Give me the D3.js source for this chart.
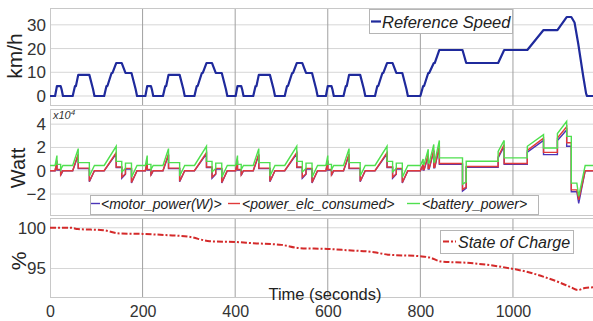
<!DOCTYPE html>
<html><head><meta charset="utf-8">
<script src="https://cdn.jsdelivr.net/npm/d3@7"></script>
<style>
html,body{margin:0;padding:0;background:#fff;overflow:hidden}
svg{display:block;font-family:"Liberation Sans",Arial,sans-serif}
</style></head>
<body>
<svg id="c" width="593" height="321"></svg>
<script>
// ---- DATA ----
const xTicks = [0, 200, 400, 600, 800, 1000];
const speedTicks = [0, 10, 20, 30];
const powerTicks = [-2, 0, 2, 4];
const socTicks = [95, 100];

// Reference speed (time s, value)
const speedT = [0,11,15,23,25,28,49,54,56,61,85,93,96,117,122,124,133,135,143,155,163,176,185,188,
  195,206,210,218,220,223,244,249,251,256,280,288,291,312,317,319,328,330,338,350,358,371,380,383,
  390,401,405,413,415,418,439,444,446,451,475,483,486,507,512,514,523,525,533,545,553,566,575,578,
  585,596,600,608,610,613,634,639,641,646,670,678,681,702,707,709,718,720,728,740,748,761,770,773,
  780,800,806,808,817,819,829,831,841,891,899,968,981,1031,1066,1096,1116,1126,1133,1141,1152,1158,1160,1180];
const speedV = [0,0,4.2,4.2,2.8,0,0,4.2,4.2,8.9,8.9,2.8,0,0,4.2,4.2,9.7,9.7,13.9,13.9,9.7,9.7,2.8,0,
  0,0,4.2,4.2,2.8,0,0,4.2,4.2,8.9,8.9,2.8,0,0,4.2,4.2,9.7,9.7,13.9,13.9,9.7,9.7,2.8,0,
  0,0,4.2,4.2,2.8,0,0,4.2,4.2,8.9,8.9,2.8,0,0,4.2,4.2,9.7,9.7,13.9,13.9,9.7,9.7,2.8,0,
  0,0,4.2,4.2,2.8,0,0,4.2,4.2,8.9,8.9,2.8,0,0,4.2,4.2,9.7,9.7,13.9,13.9,9.7,9.7,2.8,0,
  0,0,4.2,4.2,9.7,9.7,13.9,13.9,19.4,19.4,13.9,13.9,19.4,19.4,27.8,27.8,33.3,33.3,31,22,8,1,0,0];

// Power (x10^4 W)
const powerT = [0,11,15,15,23,23,28,49,61,61,85,85,96,117,143,143,155,155,163,163,176,176,188,
  195,206,210,210,218,218,223,244,256,256,280,280,291,312,338,338,350,350,358,358,371,371,383,
  390,401,405,405,413,413,418,439,451,451,475,475,486,507,533,533,545,545,553,553,566,566,578,
  585,596,600,600,608,608,613,634,646,646,670,670,681,702,728,728,740,740,748,748,761,761,773,
  780,800,806,806,808,817,817,819,829,829,831,841,841,891,891,899,899,968,968,981,981,1031,1031,1066,1066,1096,1096,1116,1116,1126,1126,1138,1142,1156,1180];
const motorPower = [0,0,0.8,0.05,0.05,-0.4,0,0,1.35,0.18,0.18,-0.95,0,0,1.45,0.28,0.28,-0.65,-0.3,0.15,0.15,-1.05,0,
  0,0,0.8,0.05,0.05,-0.4,0,0,1.35,0.18,0.18,-0.95,0,0,1.45,0.28,0.28,-0.65,-0.3,0.15,0.15,-1.05,0,
  0,0,0.8,0.05,0.05,-0.4,0,0,1.35,0.18,0.18,-0.95,0,0,1.45,0.28,0.28,-0.65,-0.3,0.15,0.15,-1.05,0,
  0,0,0.8,0.05,0.05,-0.4,0,0,1.35,0.18,0.18,-0.95,0,0,1.45,0.28,0.28,-0.65,-0.3,0.15,0.15,-1.05,0,
  0,0,0.5,0.05,0.05,1.3,0.15,0.15,1.7,0.25,0.25,2.0,0.55,0.55,-1.75,-1.5,0.3,0.3,1.1,2.1,0.55,0.55,1.6,2.6,1.38,1.38,2.6,3.5,2.1,2.1,-1.8,-1.8,-2.8,0,0];
const elcPower = [0,0,0.9,0.1,0.1,-0.35,0,0,1.45,0.22,0.22,-0.9,0,0,1.55,0.32,0.32,-0.55,-0.25,0.2,0.2,-1.0,0,
  0,0,0.9,0.1,0.1,-0.35,0,0,1.45,0.22,0.22,-0.9,0,0,1.55,0.32,0.32,-0.55,-0.25,0.2,0.2,-1.0,0,
  0,0,0.9,0.1,0.1,-0.35,0,0,1.45,0.22,0.22,-0.9,0,0,1.55,0.32,0.32,-0.55,-0.25,0.2,0.2,-1.0,0,
  0,0,0.9,0.1,0.1,-0.35,0,0,1.45,0.22,0.22,-0.9,0,0,1.55,0.32,0.32,-0.55,-0.25,0.2,0.2,-1.0,0,
  0,0,0.55,0.1,0.1,1.4,0.2,0.2,1.8,0.3,0.3,2.15,0.62,0.62,-1.6,-1.4,0.37,0.37,1.2,2.25,0.62,0.62,1.75,2.8,1.58,1.58,2.8,3.77,2.4,2.4,-1.64,-1.64,-2.5,0,0];
const batteryPower = [0.45,0.45,1.3,0.55,0.55,0.1,0.45,0.45,1.9,0.7,0.7,-0.45,0.45,0.45,2.1,0.8,0.8,-0.1,0.2,0.65,0.65,-0.55,0.45,
  0.45,0.45,1.3,0.55,0.55,0.1,0.45,0.45,1.9,0.7,0.7,-0.45,0.45,0.45,2.1,0.8,0.8,-0.1,0.2,0.65,0.65,-0.55,0.45,
  0.45,0.45,1.3,0.55,0.55,0.1,0.45,0.45,1.9,0.7,0.7,-0.45,0.45,0.45,2.1,0.8,0.8,-0.1,0.2,0.65,0.65,-0.55,0.45,
  0.45,0.45,1.3,0.55,0.55,0.1,0.45,0.45,1.9,0.7,0.7,-0.45,0.45,0.45,2.1,0.8,0.8,-0.1,0.2,0.65,0.65,-0.55,0.45,
  0.45,0.45,1.0,0.55,0.55,1.85,0.65,0.65,2.25,0.75,0.75,2.6,1.1,1.1,-1.15,-0.95,0.82,0.82,1.65,2.6,1.1,1.1,2.1,3.1,1.95,1.95,3.2,4.25,2.95,2.95,-1.06,-1.06,-2.2,0.45,0.45];

// State of charge (%)
const socT = [0,45,60,115,150,200,250,300,345,400,440,500,540,600,640,700,730,800,820,845,900,970,1000,1030,1060,1100,1125,1140,1155,1180];
const socV = [100,100,99.85,99.7,99.3,99.25,99.1,98.9,98.35,98.25,98.1,97.9,97.5,97.4,97.25,97.0,96.7,96.5,96.35,95.85,95.7,95.25,94.95,94.6,94.1,93.3,92.7,92.35,92.6,92.7];

const speedLabel = "Reference Speed";
const powerLabels = ["<motor_power(W)>", "<power_elc_consumed>", "<battery_power>"];
const socLabel = "State of Charge";

// ---- DRAW ----
const svg = d3.select("#c");
const X0 = 50, X1 = 596.3;
const x = d3.scaleLinear().domain([0, 1180]).range([X0, X1]);

const panels = [
  {id:"p1", top:8, bottom:105, dom:[-3.8, 37.1], ticks:speedTicks},
  {id:"p2", top:109, bottom:215, dom:[-3.8, 5.3], ticks:powerTicks},
  {id:"p3", top:218, bottom:297, dom:[91.5, 101.2], ticks:socTicks}
];
const defs = svg.append("defs");
panels.forEach(p => {
  p.y = d3.scaleLinear().domain(p.dom).range([p.bottom, p.top]);
  defs.append("clipPath").attr("id", "clip-" + p.id).append("rect")
    .attr("x", X0).attr("y", p.top).attr("width", X1 - X0).attr("height", p.bottom - p.top);
  const g = svg.append("g");
  g.append("rect").attr("x", X0).attr("y", p.top).attr("width", 600 - X0).attr("height", p.bottom - p.top)
    .attr("fill", "#fff");
  g.selectAll(".hg").data(p.ticks).join("line")
    .attr("x1", X0).attr("x2", 600).attr("y1", d => p.y(d)).attr("y2", d => p.y(d))
    .attr("stroke", "#d6d6d6").attr("stroke-width", 1);
  g.selectAll(".vg").data(xTicks.filter(d => d > 0)).join("line")
    .attr("x1", d => x(d)).attr("x2", d => x(d)).attr("y1", p.top).attr("y2", p.bottom)
    .attr("stroke", "#a0a0a0").attr("stroke-width", 1);
  g.append("rect").attr("x", X0 + 0.5).attr("y", p.top + 0.5).attr("width", 600 - X0).attr("height", p.bottom - p.top)
    .attr("fill", "none").attr("stroke", "#c8c8c8").attr("stroke-width", 1);
  const ax = d3.axisLeft(p.y).tickValues(p.ticks).tickSize(0).tickPadding(0).tickFormat(d3.format("d"));
  const ag = svg.append("g").attr("transform", `translate(${X0 - 4},0)`).call(ax);
  ag.select(".domain").remove();
  ag.selectAll("text").attr("font-size", 17).attr("fill", "#333")
    .attr("font-family", "Liberation Sans, Arial, sans-serif");
  p.g = svg.append("g").attr("clip-path", `url(#clip-${p.id})`);
});

// x axis (bottom)
const xa = d3.axisBottom(x).tickValues(xTicks).tickSize(0).tickPadding(0).tickFormat(d3.format("d"));
const xg = svg.append("g").attr("transform", "translate(0,306)").call(xa);
xg.select(".domain").remove();
xg.selectAll("text").attr("font-size", 16).attr("fill", "#333").attr("dy", "0.68em")
  .attr("font-family", "Liberation Sans, Arial, sans-serif");

const p1 = panels[0], p2 = panels[1], p3 = panels[2];
const speedData = speedT.map((t, i) => [t, speedV[i]]);
p1.g.append("path").datum(speedData)
  .attr("d", d3.line().x(d => x(d[0])).y(d => p1.y(d[1])))
  .attr("fill", "none").attr("stroke", "#1f2a9c").attr("stroke-width", 2.2).attr("stroke-linejoin", "round");

const powColors = ["#4b35b8", "#e03a3a", "#4fe04f"];
[motorPower, elcPower, batteryPower].forEach((arr, k) => {
  const data = powerT.map((t, i) => [t, arr[i]]);
  p2.g.append("path").datum(data)
    .attr("d", d3.line().x(d => x(d[0])).y(d => p2.y(d[1])))
    .attr("fill", "none").attr("stroke", powColors[k]).attr("stroke-width", 1.4);
});

const socData = socT.map((t, i) => [t, socV[i]]);
p3.g.append("path").datum(socData)
  .attr("d", d3.line().curve(d3.curveMonotoneX).x(d => x(d[0])).y(d => p3.y(d[1])))
  .attr("fill", "none").attr("stroke", "#d42a2a").attr("stroke-width", 2)
  .attr("stroke-dasharray", "6,2,2,2");

const xl = svg.append("text").attr("x", 53).attr("y", 119).attr("font-size", 11)
  .attr("font-style", "italic").attr("fill", "#333");
xl.append("tspan").text("x10");
xl.append("tspan").attr("dy", -4).attr("font-size", 8).text("4");

svg.append("text").attr("transform", "translate(22,56) rotate(-90)").attr("text-anchor", "middle")
  .attr("font-size", 21).attr("fill", "#222").text("km/h");
svg.append("text").attr("transform", "translate(25,168) rotate(-90)").attr("text-anchor", "middle")
  .attr("font-size", 20).attr("fill", "#222").text("Watt");
svg.append("text").attr("transform", "translate(26,261) rotate(-90)").attr("text-anchor", "middle")
  .attr("font-size", 21).attr("fill", "#222").text("%");
svg.append("text").attr("x", 325).attr("y", 300).attr("text-anchor", "middle")
  .attr("font-size", 16.5).attr("fill", "#222").text("Time (seconds)");

function legBox(x0, y0, w, h) {
  svg.append("rect").attr("x", x0 + 0.5).attr("y", y0 + 0.5).attr("width", w).attr("height", h)
    .attr("fill", "#fff").attr("stroke", "#b5b5b5").attr("stroke-width", 1);
}
legBox(369, 9, 143, 24);
svg.append("line").attr("x1", 371).attr("x2", 381).attr("y1", 21.5).attr("y2", 21.5)
  .attr("stroke", "#1f2a9c").attr("stroke-width", 2.2);
svg.append("text").attr("x", 382).attr("y", 27.5).attr("font-size", 16.5).attr("font-style", "italic")
  .attr("fill", "#222").text(speedLabel);

legBox(90, 195, 448, 19);
const legItems = [
  {x1: 91, x2: 100, tx: 101},
  {x1: 228, x2: 240, tx: 242},
  {x1: 407, x2: 420, tx: 422}
];
legItems.forEach((it, k) => {
  svg.append("line").attr("x1", it.x1).attr("x2", it.x2).attr("y1", 203.5).attr("y2", 203.5)
    .attr("stroke", powColors[k]).attr("stroke-width", 1.4);
  svg.append("text").attr("x", it.tx).attr("y", 208.5).attr("font-size", 14).attr("font-style", "italic")
    .attr("fill", "#222").text(powerLabels[k]);
});

legBox(440, 230, 133, 23);
svg.append("line").attr("x1", 443).attr("x2", 456).attr("y1", 241.5).attr("y2", 241.5)
  .attr("stroke", "#d42a2a").attr("stroke-width", 2).attr("stroke-dasharray", "6,2,2,2");
svg.append("text").attr("x", 458).attr("y", 248).attr("font-size", 16).attr("font-style", "italic")
  .attr("fill", "#222").text(socLabel);
</script>
</body></html>
